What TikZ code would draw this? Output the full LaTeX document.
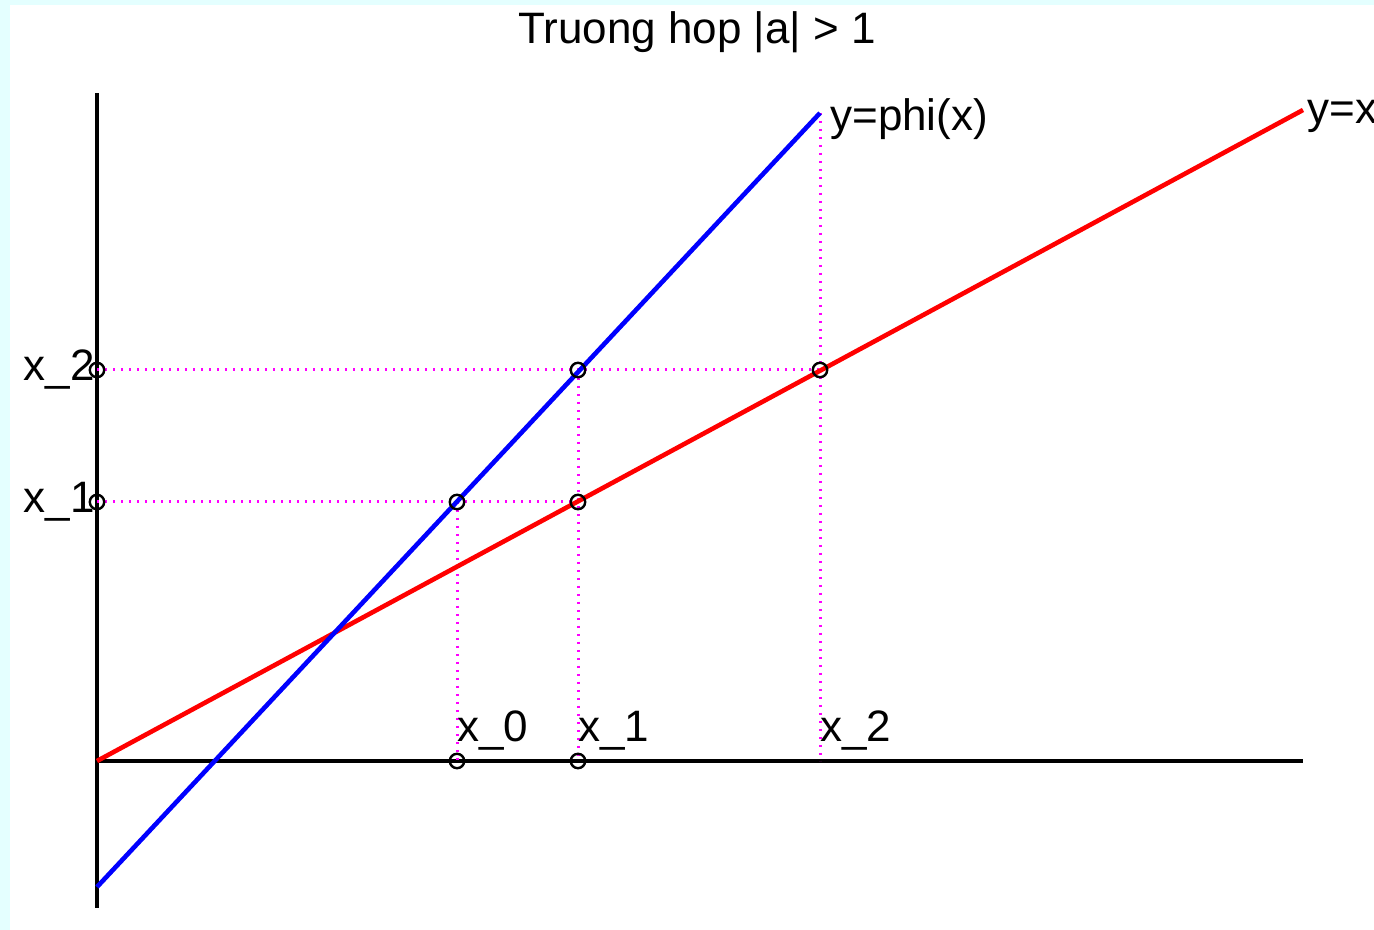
\documentclass[tikz,border=0pt]{standalone}
\usepackage{fontspec}
\setmainfont{Liberation Sans}
\usetikzlibrary{positioning}
\definecolor{PaleCyan}{RGB}{228,255,255}
\definecolor{PlotRed}{RGB}{255,0,0}
\definecolor{PlotBlue}{RGB}{0,0,255}
\definecolor{GuideMagenta}{RGB}{255,0,255}
\tikzset{
	lbl/.style={font=\fontsize{22}{26}\selectfont, inner sep=1pt},
	guide/.style={GuideMagenta, line width=1.5pt, dash pattern=on 1.2pt off 2.8pt},
	graph/.style={line width=2.3pt},
	iterpt/.style={draw=black, line width=1.2pt}
}
\begin{document}
\begin{tikzpicture}[x=0.5pt, y=0.5pt]
	% frame
	\fill[PaleCyan] (-97,-169) rectangle (1277,761);
	\fill[white] (-87,-169) rectangle (1277,756);
	\useasboundingbox (-97,-169) rectangle (1277,761);
	% points of the iteration
	\coordinate (O) at (0,0);
	\coordinate (X0) at (360,0);
	\coordinate (X1) at (481,0);
	\coordinate (X2) at (723,0);
	\coordinate (Y1) at (0,259);
	\coordinate (Y2) at (0,391);
	\coordinate (A) at (360,259);
	\coordinate (B) at (481,259);
	\coordinate (C) at (481,391);
	\coordinate (D) at (723,391);
	\coordinate (PhiStart) at (0,-126);
	\coordinate (PhiEnd) at (723,648);
	\coordinate (IdEnd) at (1206,651);
	\node[lbl] (title) at (600,729) {Truong hop |a| > 1};
	% axes
	\draw[line width=2pt] (0,-147) -- (0,668);
	\draw[line width=2pt] (O) -- (1206,0);
	% dotted guides
	\draw[guide] (Y2) -- (D);
	\draw[guide] (Y1) -- (B);
	\draw[guide] (A) -- (X0);
	\draw[guide] (C) -- (X1);
	\draw[guide] (PhiEnd) -- (X2);
	% the two graphs
	\draw[graph, PlotRed] (O) -- (IdEnd) node[lbl, right, black, yshift=-3pt] (idlbl) {y=x};
	\draw[graph, PlotBlue] (PhiStart) -- (PhiEnd) node[lbl, right, black, inner sep=4pt, yshift=-3pt] (philbl) {y=phi(x)};
	% marks
	\foreach \p in {A,B,C,D,Y1,Y2,X0,X1}
		\draw[iterpt] (\p) circle (3.6pt);
	\node[lbl, left] (ly1) at (Y1) {x\_1};
	\node[lbl, left] (ly2) at (Y2) {x\_2};
	\node[lbl, anchor=south west, inner sep=0pt, yshift=5pt] (lx0) at (X0) {x\_0};
	\node[lbl, anchor=south west, inner sep=0pt, yshift=5pt] (lx1) at (X1) {x\_1};
	\node[lbl, anchor=south west, inner sep=0pt, yshift=5pt] (lx2) at (X2) {x\_2};
\end{tikzpicture}
\end{document}
